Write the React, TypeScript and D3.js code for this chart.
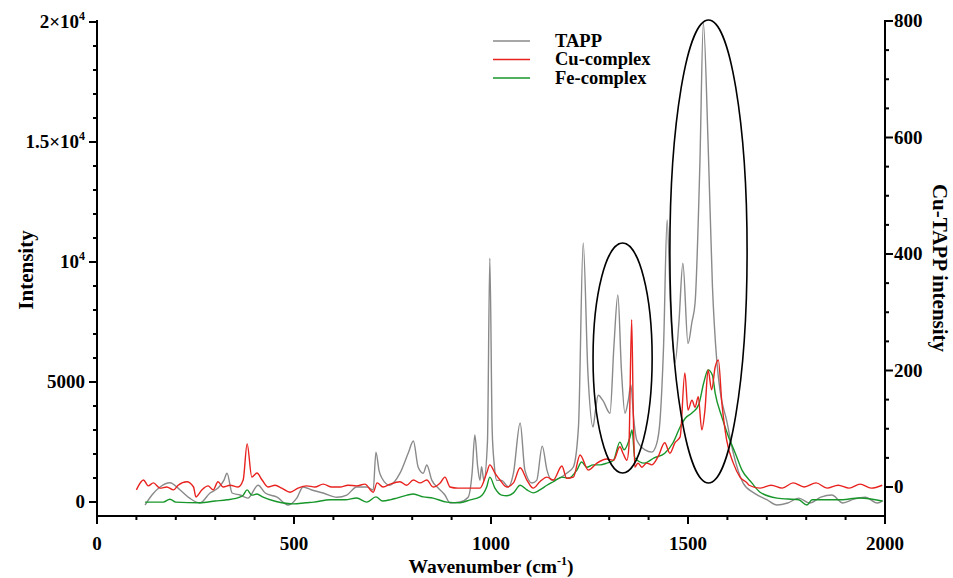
import React from "react";
import * as d3 from "d3";

// ---- Data (wavenumber cm^-1, intensity) ----
// TAPP plotted against the left axis (counts)
const tappPoints: [number, number][] = [
  [122,-125],[140,300],[160,625],[185,800],[211,500],[236,150],[261,-40],[287,375],[307,580],[322,900],[330,1200],
  [343,375],[363,290],[383,160],[409,700],[427,375],[457,200],[485,-125],[507,160],[523,625],[545,500],[574,375],
  [609,200],[634,290],[659,625],[685,625],[701,500],[708,2080],[716,1300],[723,1000],[743,700],[769,1200],[790,2040],
  [803,2540],[815,1460],[828,1200],[837,1540],[850,900],[866,580],[883,290],[896,-40],[921,0],[942,200],[952,1200],
  [959,2790],[966,1500],[972,900],[976,1470],[982,900],[991,2500],[997,10160],[1003,3000],[1008,1600],[1015,900],
  [1027,900],[1044,625],[1057,1200],[1074,3290],[1086,1330],[1104,790],[1116,900],[1130,2330],[1142,1330],[1155,900],
  [1175,1000],[1192,1200],[1209,1460],[1222,3130],[1234,10790],[1246,5370],[1259,3125],[1265,3800],[1272,4450],
  [1285,4200],[1302,3700],[1312,6500],[1322,8630],[1331,5500],[1340,3700],[1348,4200],[1355,4875],[1362,3500],
  [1370,2580],[1391,2170],[1408,2080],[1420,2400],[1429,3400],[1438,6500],[1447,11750],[1456,8000],[1467,5800],
  [1477,7500],[1487,9950],[1500,6600],[1510,7500],[1518,8300],[1530,14000],[1539,19960],[1551,14950],[1562,9000],
  [1573,5900],[1581,4670],[1598,3400],[1615,2040],[1640,790],[1668,370],[1700,100],[1726,-125],[1753,-40],
  [1781,160],[1809,-40],[1837,200],[1865,290],[1893,-40],[1921,120],[1950,200],[1980,-40],[1995,60]
];

// Cu-complex plotted against the right axis (Cu-TAPP intensity)
const cuPoints: [number, number][] = [
  [100,-5],[118,12],[130,2],[143,7],[160,-2],[177,0],[194,-5],[206,3],[228,9],[245,0],[251,-17],[266,-5],[282,2],
  [295,-5],[307,9],[320,0],[338,3],[358,0],[371,12],[381,74],[393,17],[406,24],[419,12],[434,0],[452,3],[469,-2],
  [490,-9],[510,-2],[532,2],[553,0],[574,5],[596,0],[617,0],[637,3],[659,2],[680,5],[701,-9],[711,7],[726,0],
  [744,5],[769,9],[786,3],[803,12],[820,7],[837,12],[853,0],[871,7],[883,17],[896,0],[916,-2],[938,-2],[972,-2],
  [989,24],[997,38],[1010,24],[1023,12],[1040,0],[1057,7],[1074,33],[1091,12],[1107,-2],[1124,9],[1142,17],
  [1158,12],[1180,36],[1192,15],[1209,17],[1226,55],[1247,29],[1269,41],[1294,48],[1311,46],[1327,69],[1335,58],
  [1345,46],[1350,69],[1357,287],[1361,132],[1365,34],[1373,41],[1383,34],[1395,41],[1408,38],[1424,52],[1441,76],
  [1454,58],[1467,76],[1480,86],[1492,196],[1500,132],[1510,149],[1518,137],[1526,155],[1535,98],[1543,132],
  [1551,201],[1560,167],[1569,206],[1577,218],[1586,144],[1598,81],[1615,41],[1632,17],[1650,7],[1655,3],
  [1683,-2],[1711,3],[1739,-2],[1767,7],[1795,0],[1825,7],[1853,-2],[1881,3],[1909,-2],[1937,5],[1965,-2],[1993,3]
];

// Fe-complex plotted against the right axis
const fePoints: [number, number][] = [
  [122,-26],[168,-26],[185,-21],[200,-26],[261,-27],[300,-24],[330,-22],[364,-17],[371,-14],[381,-5],[393,-14],
  [406,-12],[420,-17],[450,-24],[469,-27],[499,-29],[530,-27],[550,-26],[592,-22],[630,-22],[659,-19],[685,-26],
  [708,-17],[725,-24],[744,-22],[761,-19],[787,-14],[803,-12],[828,-17],[853,-19],[888,-26],[921,-27],[947,-22],
  [972,-17],[989,0],[997,17],[1010,-2],[1027,-14],[1040,-15],[1057,-10],[1074,3],[1091,-5],[1107,-10],[1124,-5],
  [1142,3],[1158,9],[1180,17],[1197,15],[1218,29],[1230,43],[1243,34],[1259,38],[1277,38],[1294,41],[1311,46],
  [1327,77],[1338,64],[1353,86],[1358,98],[1365,50],[1389,41],[1414,50],[1441,58],[1462,76],[1480,103],[1493,118],
  [1510,127],[1527,141],[1540,179],[1551,201],[1562,192],[1569,161],[1586,120],[1603,86],[1620,58],[1637,29],
  [1662,7],[1683,-9],[1726,-19],[1781,-22],[1802,-31],[1815,-22],[1881,-22],[1937,-19],[1993,-24]
];

const seriesNames = ["TAPP", "Cu-complex", "Fe-complex"];
const seriesColors = ["#8a8a8a", "#e8231f", "#17962a"];

// Axis ticks
const xMajorTicks = [0, 500, 1000, 1500, 2000];
const leftMajorTicks = [0, 5000, 10000, 15000, 20000];
const leftTickLabels: [string, string][] = [["0", ""], ["5000", ""], ["10", "4"], ["1.5×10", "4"], ["2×10", "4"]];
const rightMajorTicks = [0, 200, 400, 600, 800];

// Ellipse annotations: [center wavenumber, center intensity (left), half-width cm^-1, half-height intensity]
const ellipses: [number, number, number, number][] = [
  [1334, 6000, 75, 4790],
  [1552, 10440, 98, 9646],
];

const FONT = "'Liberation Serif', 'Times New Roman', serif";

export default function App() {
  const W = 953, H = 578;
  const x = d3.scaleLinear().domain([0, 2000]).range([97, 885]);
  const yL = d3.scaleLinear().domain([0, 20000]).range([502, 22]);
  const yR = d3.scaleLinear().domain([0, 800]).range([487, 21]);
  const axisTop = 20, axisBottom = 516;

  const lineL = d3.line<[number, number]>().x(d => x(d[0])).y(d => yL(d[1])).curve(d3.curveMonotoneX);
  const lineR = d3.line<[number, number]>().x(d => x(d[0])).y(d => yR(d[1])).curve(d3.curveMonotoneX);

  const xMinor = d3.range(0, 2001, 100).filter(v => v % 500 !== 0);
  const leftMinor = d3.range(0, 20001, 1000).filter(v => v % 5000 !== 0);
  const rightMinor = d3.range(0, 801, 50).filter(v => v % 200 !== 0);

  const tickStyle = { stroke: "#000", strokeWidth: 2 };
  const labelStyle: React.CSSProperties = { fontFamily: FONT, fontWeight: "bold", fontSize: 19 };

  return (
    <svg width={W} height={H} style={{ position: "absolute", left: 0, top: 0, background: "#fff" }}>
      {/* data lines */}
      <path d={lineL(tappPoints) || ""} fill="none" stroke={seriesColors[0]} strokeWidth={1.4} />
      <path d={lineR(fePoints) || ""} fill="none" stroke={seriesColors[2]} strokeWidth={1.4} />
      <path d={lineR(cuPoints) || ""} fill="none" stroke={seriesColors[1]} strokeWidth={1.4} />

      {/* ellipses */}
      {ellipses.map((e, i) => (
        <ellipse key={i} cx={x(e[0])} cy={yL(e[1])} rx={x(e[0] + e[2]) - x(e[0])} ry={yL(0) - yL(e[3])}
          fill="none" stroke="#000" strokeWidth={1.6} />
      ))}

      {/* axes lines */}
      <line x1={x(0)} x2={x(0)} y1={axisTop} y2={axisBottom + 1} {...tickStyle} />
      <line x1={x(2000)} x2={x(2000)} y1={axisTop} y2={axisBottom + 1} {...tickStyle} />
      <line x1={x(0) - 1} x2={x(2000) + 1} y1={axisBottom} y2={axisBottom} {...tickStyle} />

      {/* bottom ticks */}
      {xMajorTicks.map(v => (
        <g key={"xm" + v}>
          <line x1={x(v)} x2={x(v)} y1={axisBottom} y2={axisBottom + 8} {...tickStyle} />
          <text x={x(v)} y={550} textAnchor="middle" style={labelStyle}>{v}</text>
        </g>
      ))}
      {xMinor.map(v => (
        <line key={"xn" + v} x1={x(v)} x2={x(v)} y1={axisBottom} y2={axisBottom + 4} {...tickStyle} />
      ))}

      {/* left ticks */}
      {leftMajorTicks.map((v, i) => (
        <g key={"lm" + v}>
          <line x1={x(0) - 8} x2={x(0)} y1={yL(v)} y2={yL(v)} {...tickStyle} />
          <text x={85} y={yL(v) + 6} textAnchor="end" style={labelStyle}>
            {leftTickLabels[i][0]}
            {leftTickLabels[i][1] && (
              <tspan dy={-8} fontSize={12}>{leftTickLabels[i][1]}</tspan>
            )}
          </text>
        </g>
      ))}
      {leftMinor.map(v => (
        <line key={"ln" + v} x1={x(0) - 4} x2={x(0)} y1={yL(v)} y2={yL(v)} {...tickStyle} />
      ))}

      {/* right ticks */}
      {rightMajorTicks.map(v => (
        <g key={"rm" + v}>
          <line x1={x(2000)} x2={x(2000) + 8} y1={yR(v)} y2={yR(v)} {...tickStyle} />
          <text x={894} y={yR(v) + 6} textAnchor="start" style={labelStyle}>{v}</text>
        </g>
      ))}
      {rightMinor.map(v => (
        <line key={"rn" + v} x1={x(2000)} x2={x(2000) + 4} y1={yR(v)} y2={yR(v)} {...tickStyle} />
      ))}

      {/* axis titles */}
      <text x={491} y={573} textAnchor="middle" style={{ ...labelStyle, fontSize: 19.5 }}>
        Wavenumber (cm<tspan dy={-8} fontSize={12}>-1</tspan><tspan dy={8}>)</tspan>
      </text>
      <text transform="translate(33,270) rotate(-90)" textAnchor="middle" style={{ ...labelStyle, fontSize: 21 }}>
        Intensity
      </text>
      <text transform="translate(933,268) rotate(90)" textAnchor="middle" style={{ ...labelStyle, fontSize: 21 }}>
        Cu-TAPP intensity
      </text>

      {/* legend */}
      {seriesNames.map((n, i) => (
        <g key={n}>
          <line x1={493} x2={530} y1={41 + i * 18.5} y2={41 + i * 18.5} stroke={seriesColors[i]} strokeWidth={1.4} />
          <text x={555} y={46.5 + i * 18.5} style={{ ...labelStyle, fontSize: 18.5 }}>{n}</text>
        </g>
      ))}
    </svg>
  );
}
